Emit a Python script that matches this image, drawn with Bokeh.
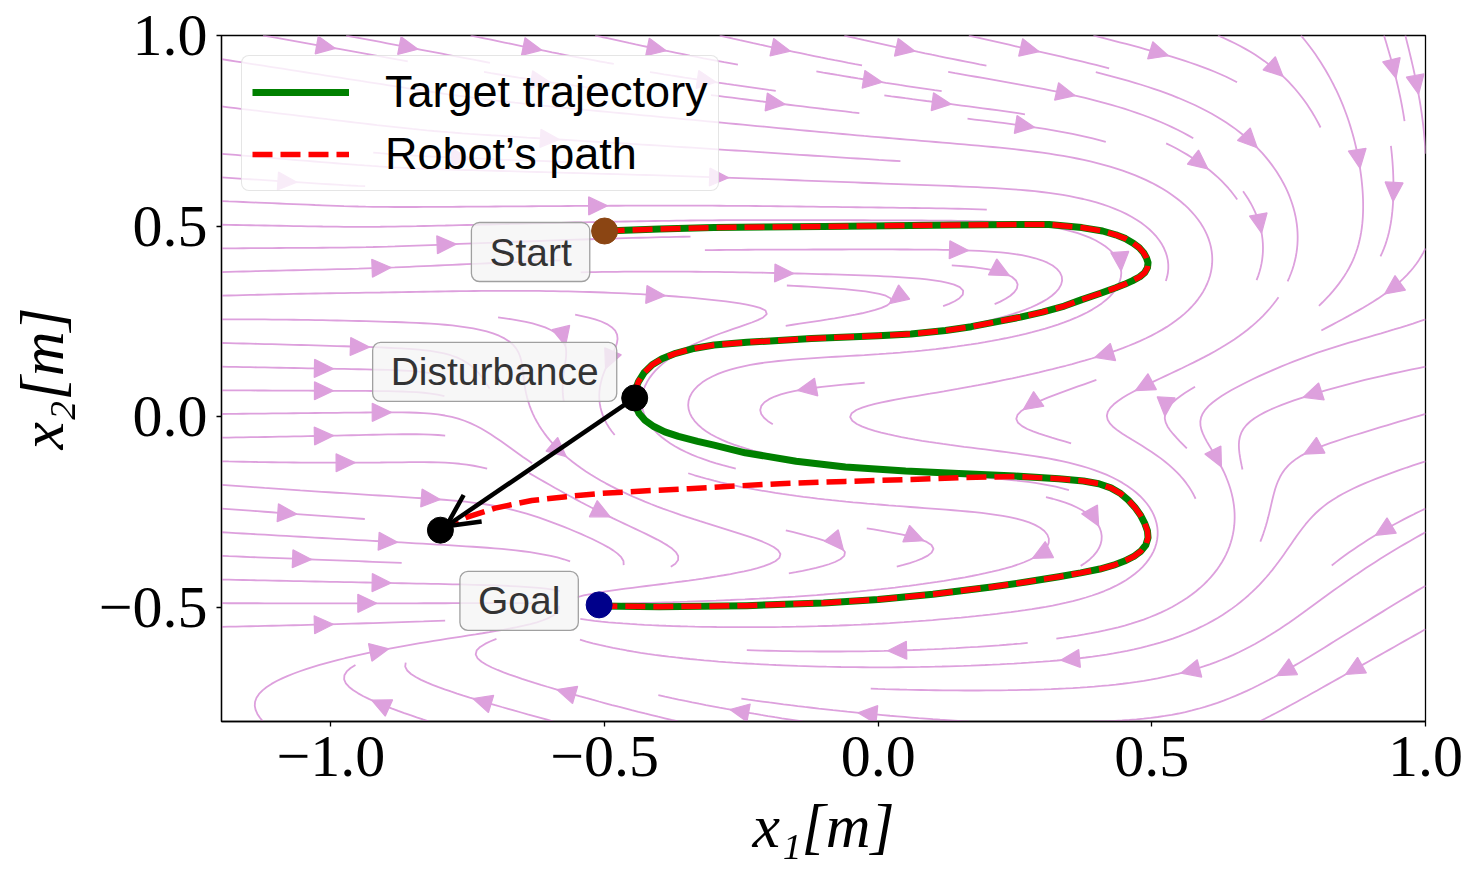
import math
import numpy as np
from bokeh.plotting import figure
from bokeh.models import (Range1d, FixedTicker, CustomJSTickFormatter, Legend, LegendItem,
                          Label, Arrow, OpenHead)
from bokeh.embed import file_html
from bokeh.resources import INLINE

# ---------------- data ----------------
target_x = [-0.50, -0.40, -0.30, -0.10, 0.10, 0.25, 0.312, 0.372, 0.41, 0.434,
            0.452, 0.466, 0.477, 0.485, 0.49, 0.493, 0.492, 0.487, 0.478, 0.465,
            0.45, 0.434, 0.405, 0.372, 0.34, 0.30, 0.26, 0.22, 0.17, 0.123,
            0.06, 0.0, -0.122, -0.24, -0.30, -0.34, -0.37, -0.395, -0.413, -0.428,
            -0.438, -0.444, -0.445, -0.443, -0.437, -0.426, -0.41, -0.39, -0.365, -0.33,
            -0.30, -0.243, -0.15, -0.06, 0.05, 0.147, 0.25, 0.33, 0.375, 0.403,
            0.425, 0.443, 0.457, 0.469, 0.479, 0.487, 0.492, 0.493, 0.489, 0.48,
            0.467, 0.45, 0.43, 0.405, 0.37, 0.33, 0.27, 0.207, 0.10, 0.0,
            -0.10, -0.24, -0.40, -0.51]
target_y = [0.487, 0.492, 0.496, 0.499, 0.502, 0.504, 0.504, 0.496, 0.487, 0.477,
            0.467, 0.455, 0.443, 0.43, 0.417, 0.404, 0.391, 0.378, 0.367, 0.357,
            0.347, 0.338, 0.323, 0.307, 0.29, 0.274, 0.261, 0.25, 0.236, 0.226,
            0.217, 0.212, 0.205, 0.195, 0.188, 0.178, 0.166, 0.152, 0.136, 0.115,
            0.092, 0.07, 0.049, 0.027, 0.008, -0.01, -0.026, -0.04, -0.052, -0.065,
            -0.075, -0.095, -0.117, -0.132, -0.143, -0.149, -0.156, -0.163, -0.169, -0.176,
            -0.187, -0.202, -0.219, -0.238, -0.258, -0.28, -0.30, -0.318, -0.337, -0.353,
            -0.367, -0.379, -0.39, -0.40, -0.41, -0.42, -0.434, -0.447, -0.466, -0.48,
            -0.489, -0.496, -0.499, -0.497]
recovery_x = [-0.80, -0.754, -0.70, -0.633, -0.57, -0.511, -0.43, -0.346, -0.26, -0.18,
              -0.06, 0.06, 0.16, 0.25]
recovery_y = [-0.298, -0.265, -0.24, -0.22, -0.21, -0.202, -0.195, -0.189, -0.182, -0.176,
              -0.17, -0.165, -0.16, -0.157]
start_pt = (-0.50, 0.487)
goal_pt = (-0.51, -0.494)
disturb_pt = (-0.445, 0.049)
pushed_pt = (-0.80, -0.298)
x_ticks = [-1.0, -0.5, 0.0, 0.5, 1.0]
y_ticks = [-0.5, 0.0, 0.5, 1.0]
legend_labels = ["Target trajectory", "Robot\u2019s path"]
point_labels = ["Start", "Disturbance", "Goal"]

# ---------------- geometry ----------------
X0, X1, Y0, Y1 = -1.2, 1.0, -0.8, 1.0
FW, FH = 1204, 686
SX = FW / (X1 - X0)
SY = FH / (Y1 - Y0)

# ---------------- vector field derived from the target trajectory ----------------
tx_a = np.array(target_x); ty_a = np.array(target_y)
seg = np.hypot(np.diff(tx_a), np.diff(ty_a))
arc = np.concatenate([[0.0], np.cumsum(seg)])
ncent = int(arc[-1] / 0.02) + 1
cs = np.linspace(0, arc[-1], ncent)
cx = np.interp(cs, arc, tx_a); cy = np.interp(cs, arc, ty_a)
tgx = np.gradient(cx); tgy = np.gradient(cy)
nn = np.hypot(tgx, tgy); tgx /= nn; tgy /= nn
S = cs[-1]
gain = np.clip((S - cs) / 0.35, 0, 1)

SIG, KT, KA, BETA = 0.10, -1.5, 1.0, 0.6
NXg, NYg = 111, 91
gxs = np.linspace(X0, X1, NXg); gys = np.linspace(Y0, Y1, NYg)
PX, PY = np.meshgrid(gxs, gys)
D2 = (PX[..., None] - cx) ** 2 + (PY[..., None] - cy) ** 2
base = -D2 / (2 * SIG ** 2)

# far-field guides of the flow (centre, spread x/y, log-weight, direction)
guides = [((-0.95, -0.15), (0.45, 0.22), -6.0, (1.0, 0.0)),
          ((0.85, 0.08), (0.35, 0.17), -6.5, (-0.97, -0.25)),
          ((0.85, -0.32), (0.28, 0.16), -7.5, (-0.55, -0.83)),
          ((-0.55, -0.75), (0.30, 0.10), -7.0, (-1.0, 0.15)),
          ((0.92, 0.60), (0.15, 0.30), -7.0, (0.2, -1.0)),
          ((0.0, 0.85), (0.60, 0.20), -7.0, (1.0, -0.05))]
lt_list = [base + KT * cs]
gx_list = [np.broadcast_to(gain * tgx, base.shape)]
gy_list = [np.broadcast_to(gain * tgy, base.shape)]
for (gcx, gcy), (sgx, sgy), bias, (dgx, dgy) in guides:
    lg = -((PX - gcx) ** 2) / (2 * sgx ** 2) - ((PY - gcy) ** 2) / (2 * sgy ** 2) + bias
    dn = math.hypot(dgx, dgy)
    lt_list.append(lg[..., None])
    gx_list.append(np.full(lg.shape + (1,), dgx / dn))
    gy_list.append(np.full(lg.shape + (1,), dgy / dn))
lt = np.concatenate(lt_list, axis=2)
lt -= lt.max(axis=2, keepdims=True)
wt = np.exp(lt); W = wt.sum(2)
Tx = (wt * np.concatenate(gx_list, axis=2)).sum(2) / W
Ty = (wt * np.concatenate(gy_list, axis=2)).sum(2) / W
la = base + KA * cs
la -= la.max(axis=2, keepdims=True)
wa = np.exp(la); WA = wa.sum(2)
Ax = (wa * cx).sum(2) / WA - PX
Ay = (wa * cy).sum(2) / WA - PY


def blur(a, s=2.0):
    r = int(3 * s)
    k = np.exp(-0.5 * (np.arange(-r, r + 1) / s) ** 2); k /= k.sum()
    ap = np.pad(a, ((r, r), (0, 0)), mode="edge")
    a = sum(k[i] * ap[i:i + a.shape[0]] for i in range(2 * r + 1))
    ap = np.pad(a, ((0, 0), (r, r)), mode="edge")
    return sum(k[i] * ap[:, i:i + a.shape[1]] for i in range(2 * r + 1))


U = blur(Tx + BETA * Ax) / (X1 - X0)
V = blur(Ty + BETA * Ay) / (Y1 - Y0)
Ul = U.tolist(); Vl = V.tolist()


def vel(fx, fy):
    gx = fx * (NXg - 1); gy = fy * (NYg - 1)
    i = int(gx); j = int(gy)
    if i > NXg - 2: i = NXg - 2
    if j > NYg - 2: j = NYg - 2
    ax = gx - i; ay = gy - j
    r0 = Ul[j]; r1 = Ul[j + 1]
    u = (r0[i] * (1 - ax) + r0[i + 1] * ax) * (1 - ay) + (r1[i] * (1 - ax) + r1[i + 1] * ax) * ay
    r0 = Vl[j]; r1 = Vl[j + 1]
    v = (r0[i] * (1 - ax) + r0[i + 1] * ax) * (1 - ay) + (r1[i] * (1 - ax) + r1[i + 1] * ax) * ay
    sp = math.hypot(u, v)
    if sp < 1e-12:
        return None
    return u / sp, v / sp


M = 30
mask = [[0] * M for _ in range(M)]
DS, MAXLEN, MINLEN = 0.006, 4.0, 0.1


def inside(fx, fy):
    return 0.0 <= fx <= 1.0 and 0.0 <= fy <= 1.0


def cell(fx, fy):
    return int(round(fx * (M - 1))), int(round(fy * (M - 1)))


def edge_t(fx, fy, dx, dy):
    t = DS
    if dx > 0: t = min(t, (1 - fx) / dx)
    elif dx < 0: t = min(t, -fx / dx)
    if dy > 0: t = min(t, (1 - fy) / dy)
    elif dy < 0: t = min(t, -fy / dy)
    return max(t, 0.0)


def run(fx, fy, sign, cur, visited):
    pts = []; total = 0.0
    while True:
        pts.append((fx, fy))
        k1 = vel(fx, fy)
        if k1 is None: break
        mx = fx + sign * DS * k1[0]; my = fy + sign * DS * k1[1]
        if not inside(mx, my):
            t = edge_t(fx, fy, sign * k1[0], sign * k1[1])
            if t > 0:
                pts.append((fx + t * sign * k1[0], fy + t * sign * k1[1])); total += t
            break
        k2 = vel(mx, my)
        if k2 is None: break
        dx = sign * 0.5 * (k1[0] + k2[0]); dy = sign * 0.5 * (k1[1] + k2[1])
        nx_ = fx + DS * dx; ny_ = fy + DS * dy
        if not inside(nx_, ny_):
            t = edge_t(fx, fy, dx, dy)
            if t > 0:
                pts.append((fx + t * dx, fy + t * dy)); total += t
            break
        c = cell(nx_, ny_)
        if c != cur:
            if mask[c[1]][c[0]]: break
            mask[c[1]][c[0]] = 1; visited.append(c); cur = c
        if total + DS > MAXLEN: break
        total += DS
        fx, fy = nx_, ny_
    return total, pts


def spiral(nx, ny):
    xfirst, yfirst, xlast, ylast = 0, 1, nx - 1, ny - 1
    x, y = 0, 0
    d = 'right'
    for _ in range(nx * ny):
        yield x, y
        if d == 'right':
            x += 1
            if x >= xlast: xlast -= 1; d = 'up'
        elif d == 'up':
            y += 1
            if y >= ylast: ylast -= 1; d = 'left'
        elif d == 'left':
            x -= 1
            if x <= xfirst: xfirst += 1; d = 'down'
        else:
            y -= 1
            if y <= yfirst: yfirst += 1; d = 'right'


streams = []
for xm, ym in spiral(M, M):
    if mask[ym][xm]: continue
    fx0, fy0 = xm / (M - 1), ym / (M - 1)
    visited = [(xm, ym)]
    mask[ym][xm] = 1
    tb, pb = run(fx0, fy0, -1, (xm, ym), visited)
    tf, pf = run(fx0, fy0, +1, (xm, ym), visited)
    if tb + tf > MINLEN:
        streams.append(pb[::-1] + pf[1:])
    else:
        for a, b in visited: mask[b][a] = 0

sl_xs, sl_ys, ah_xs, ah_ys = [], [], [], []
AL, AW = 19.0, 18.0
for pts in streams:
    arr = np.array(pts)
    xs = X0 + arr[:, 0] * (X1 - X0); ys = Y0 + arr[:, 1] * (Y1 - Y0)
    sl_xs.append(xs); sl_ys.append(ys)
    if len(xs) < 3: continue
    s = np.cumsum(np.hypot(np.diff(xs), np.diff(ys)))
    n = int(np.searchsorted(s, s[-1] / 2.0))
    n = min(n, len(xs) - 2)
    hx, hy = np.mean(xs[n:n + 2]), np.mean(ys[n:n + 2])
    dxp = (xs[n + 1] - xs[n]) * SX; dyp = (ys[n + 1] - ys[n]) * SY
    L = math.hypot(dxp, dyp)
    if L == 0: continue
    ux, uy = dxp / L, dyp / L
    bx, by = -ux * AL, -uy * AL
    px_, py_ = -uy * AW / 2, ux * AW / 2
    ah_xs.append([hx, hx + (bx + px_) / SX, hx + (bx - px_) / SX])
    ah_ys.append([hy, hy + (by + py_) / SY, hy + (by - py_) / SY])

# ---------------- figure ----------------
p = figure(frame_width=FW, frame_height=FH, x_range=Range1d(X0, X1), y_range=Range1d(Y0, Y1),
           output_backend="svg", toolbar_location=None,
           min_border_left=221, min_border_right=45, min_border_top=35, min_border_bottom=0)
p.background_fill_color = "white"
p.border_fill_color = "white"
p.xgrid.visible = False
p.ygrid.visible = False
p.outline_line_color = "black"
p.outline_line_width = 1.3

fmt = CustomJSTickFormatter(code="return (tick < -1e-9 ? '\u2212' : '') + Math.abs(tick).toFixed(1);")
for ax in (p.xaxis[0], p.yaxis[0]):
    ax.formatter = fmt
    ax.major_label_text_font = "Liberation Serif"
    ax.major_label_text_font_size = "60px"
    ax.major_label_text_color = "black"
    ax.axis_label_text_font = "Liberation Serif"
    ax.axis_label_text_font_style = "italic"
    ax.axis_label_text_font_size = "62px"
    ax.axis_label_text_color = "black"
    ax.major_tick_in = 0
    ax.major_tick_out = 5
    ax.minor_tick_line_color = None
    ax.axis_line_width = 1.3
    ax.major_tick_line_width = 1.3
p.xaxis.ticker = FixedTicker(ticks=x_ticks)
p.yaxis.ticker = FixedTicker(ticks=y_ticks)
p.xaxis.axis_label = "x\u2081[m]"
p.yaxis.axis_label = "x\u2082[m]"
p.xaxis.major_label_standoff = 10
p.xaxis.axis_label_standoff = 13
p.yaxis.major_label_standoff = 9
p.yaxis.axis_label_standoff = 20

p.multi_line(xs=sl_xs, ys=sl_ys, line_color="#DDA0DD", line_width=1.8)
p.patches(xs=ah_xs, ys=ah_ys, fill_color="#DDA0DD", line_color="#DDA0DD", line_width=1.2)

# robot path = target up to the push, recovery, then target again
d_idx = int(np.argmin(np.hypot(tx_a - disturb_pt[0], ty_a - disturb_pt[1])))
r_idx = int(np.argmin(np.hypot(tx_a - recovery_x[-1], ty_a - recovery_y[-1]))) + 1
robot_x = np.array(target_x[:d_idx + 1] + [np.nan] + recovery_x + target_x[r_idx:])
robot_y = np.array(target_y[:d_idx + 1] + [np.nan] + recovery_y + target_y[r_idx:])
r_t = p.line(tx_a, ty_a, line_color="green", line_width=7, line_join="round")
r_r = p.line(robot_x, robot_y, line_color="red", line_width=5.5, line_dash="20 8")

# push arrow (tip stops a few pixels short of the pushed point)
vx = (disturb_pt[0] - pushed_pt[0]) * SX; vy = (disturb_pt[1] - pushed_pt[1]) * SY
vl = math.hypot(vx, vy)
end_x = pushed_pt[0] + vx / vl * 7 / SX; end_y = pushed_pt[1] + vy / vl * 7 / SY
p.add_layout(Arrow(end=OpenHead(size=32, line_width=4.5, line_color="black"),
                   x_start=disturb_pt[0], y_start=disturb_pt[1], x_end=end_x, y_end=end_y,
                   line_width=4.5, line_color="black"))

p.scatter([start_pt[0]], [start_pt[1]], size=26, color="#8B4513")
p.scatter([goal_pt[0]], [goal_pt[1]], size=26, color="#00008B")
p.scatter([disturb_pt[0], pushed_pt[0]], [disturb_pt[1], pushed_pt[1]], size=26, color="black")

lab_props = Label.properties()
for (px0, py0), text, xo, yo in [(start_pt, point_labels[0], -74, -21),
                                 (disturb_pt, point_labels[1], -140, 26),
                                 (goal_pt, point_labels[2], -80, 4)]:
    lab = Label(x=px0, y=py0, text=text, x_offset=xo, y_offset=yo, text_align="center",
                text_baseline="middle", text_font="Liberation Sans", text_font_size="39px",
                text_color="#333333", background_fill_color="#f5f5f5", background_fill_alpha=0.8,
                border_line_color="#a0a0a0", border_line_width=1.3)
    if "padding" in lab_props:
        lab.padding = (18, 8)
    if "border_radius" in lab_props:
        lab.border_radius = 8
    p.add_layout(lab)

legend = Legend(items=[LegendItem(label=legend_labels[0], renderers=[r_t]),
                       LegendItem(label=legend_labels[1], renderers=[r_r])],
                location="top_left", margin=20, padding=10, spacing=10,
                glyph_width=97, glyph_height=52, label_standoff=36,
                label_text_font="Liberation Sans", label_text_font_size="45px",
                label_text_color="black",
                border_line_color="#cccccc", border_line_width=1.3,
                background_fill_color="white", background_fill_alpha=0.8)
if "border_radius" in Legend.properties():
    legend.border_radius = 8
p.add_layout(legend)

open("out.html", "w").write(file_html(p, INLINE))
